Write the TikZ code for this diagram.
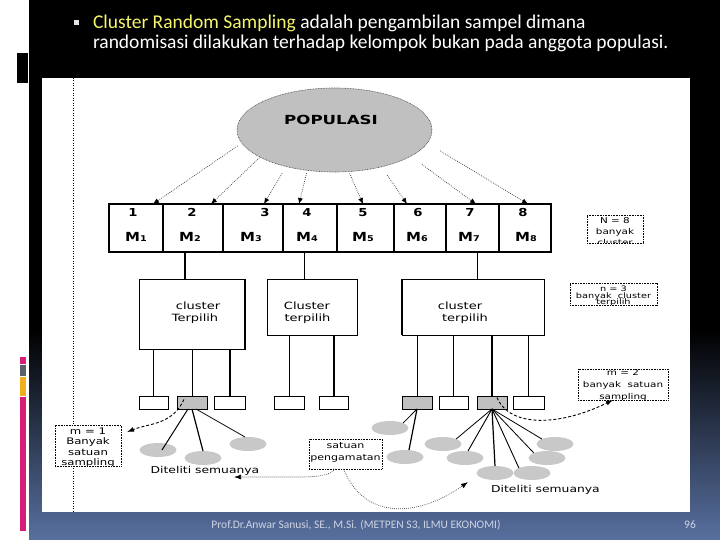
\documentclass[tikz,border=0pt]{standalone}
\usepackage{fontspec}
\usepackage{graphicx}
\setmainfont{DejaVu Sans}
\newfontfamily\ttlfont{Carlito}
\usetikzlibrary{arrows.meta,shapes.geometric,calc}
\definecolor{panelblue}{RGB}{88,112,160}
\definecolor{ttlyellow}{RGB}{245,245,110}
\definecolor{boxgray}{RGB}{192,192,192}
\definecolor{elgray}{RGB}{200,200,200}
\definecolor{barpink}{RGB}{214,30,120}
\definecolor{bargray}{RGB}{90,96,106}
\definecolor{baryellow}{RGB}{240,176,30}
\definecolor{footgray}{RGB}{205,212,228}
\newcommand{\sx}[1]{\scalebox{1.3}[1]{#1}}
\newcommand{\sxb}[1]{\scalebox{1.2}[1]{#1}}
\newcommand{\Msub}[1]{\sxb{M{\fontsize{8}{9}\selectfont #1}}}
\begin{document}
\begin{tikzpicture}[x=1pt,y=-1pt,
 every node/.style={inner sep=0pt, outer sep=0pt},
 cell/.style={draw, line width=1.3pt, minimum height=48pt, anchor=north west},
 kbox/.style={draw, line width=1pt, anchor=north west, fill=white},
 sbox/.style={draw, line width=1pt, anchor=north west, minimum height=13pt, fill=white},
 gbox/.style={sbox, fill=boxgray},
 sel/.style={ellipse, fill=elgray, minimum width=37pt, minimum height=14pt},
 ann/.style={draw=black, dash pattern=on 0.8pt off 0.8pt, line width=0.8pt, fill=white, anchor=north west},
 anntxt/.style={anchor=base, font=\fontsize{8}{9}\selectfont},
 numtxt/.style={anchor=base, font=\bfseries\fontsize{11}{12}\selectfont},
 mtxt/.style={anchor=base, font=\bfseries\fontsize{12.5}{13}\selectfont},
 ktxt/.style={anchor=base, font=\fontsize{10}{12}\selectfont},
 poparrow/.style={draw=black!75, dash pattern=on 0.8pt off 1.2pt, line width=0.7pt, -{Latex[length=6pt,width=5pt,black]}},
 dasharrow/.style={draw=black, dash pattern=on 3pt off 2pt, line width=0.9pt, -{Latex[length=7pt,width=5pt]}},
 dotarrow/.style={draw=black!70, dash pattern=on 0.8pt off 1.2pt, line width=0.7pt, -{Latex[length=7pt,width=5pt,black]}},
]
\useasboundingbox (0,0) rectangle (720,540);
% background
\fill[white] (0,0) rectangle (720,540);
\fill[black] (29,0) rectangle (720,331);
\shade[top color=black, middle color=black!65!panelblue, bottom color=panelblue] (29,330) rectangle (720,540);
\fill[black] (17,53) rectangle (28,83);
\fill[barpink] (20,357) rectangle (26,364);
\fill[bargray] (20,365) rectangle (26,376);
\fill[baryellow] (20,377) rectangle (26,396);
\fill[barpink] (20,397) rectangle (26,531);
\fill[white] (42,78) rectangle (690,512);
\draw[black, dash pattern=on 1pt off 1.5pt, line width=0.7pt] (73,78) -- (73,512);

% title
\node[fill=white!80!gray, minimum size=5pt] (bul) at (76,23) {};
\node[anchor=base west, font=\ttlfont\fontsize{19.5}{21}\selectfont, text=white] (ttl1) at (93,29)
  {\textcolor{ttlyellow}{Cluster Random Sampling} adalah pengambilan sampel dimana};
\node[anchor=base west, font=\ttlfont\fontsize{19.5}{21}\selectfont, text=white] (ttl2) at (93,49)
  {randomisasi dilakukan terhadap kelompok bukan pada anggota populasi.};

% footer
\node[anchor=base, font=\ttlfont\fontsize{11.5}{13}\selectfont, text=footgray] (foot) at (356,528)
  {Prof.Dr.Anwar Sanusi, SE., M.Si. (METPEN S3, ILMU EKONOMI)};
\node[anchor=base, font=\ttlfont\fontsize{11.5}{13}\selectfont, text=footgray] (pg) at (690,528) {96};

% population
\node[ellipse, draw=black!70, dash pattern=on 0.8pt off 0.8pt, line width=0.6pt, fill=boxgray,
  minimum width=195pt, minimum height=84pt] (pop) at (334.5,130) {};
\node[anchor=base, font=\bfseries\fontsize{12.5}{14}\selectfont] (poptxt) at (331,125) {\scalebox{1.33}[1]{POPULASI}};

% table
\node[cell, minimum width=54pt] (c1) at (109,204) {};
\node[cell, minimum width=60pt] (c2) at (163,204) {};
\node[cell, minimum width=60pt] (c3) at (223,204) {};
\node[cell, minimum width=54pt] (c4) at (283,204) {};
\node[cell, minimum width=57pt] (c5) at (337,204) {};
\node[cell, minimum width=52pt] (c6) at (394,204) {};
\node[cell, minimum width=53pt] (c7) at (446,204) {};
\node[cell, minimum width=52pt] (c8) at (499,204) {};
\foreach \i/\x in {1/133,2/192,3/265,4/307,5/363,6/418,7/470,8/523}
  \node[numtxt] (num\i) at (\x,217) {\sxb{\i}};
\foreach \i/\x in {1/136,2/190,3/251,4/307,5/363,6/417,7/469,8/526}
  \node[mtxt] (mm\i) at (\x,241) {\Msub{\i}};

\foreach \ang/\c/\dx/\sh in {188.8/c1/17/5, 200.6/c2/18/1, 217.6/c3/11/8, 236.5/c4/-11/3,
   289.8/c5/-2.5/2, 322.2/c6/-13/10, 341.8/c7/3.5/14, 352/c8/3/15}
  \draw[poparrow, shorten <=\sh pt] (pop.\ang) -- ([xshift=\dx pt]\c.north);

% cluster boxes
\node[kbox, minimum width=106pt, minimum height=70pt] (k1) at (139,279) {};
\node[kbox, minimum width=90pt, minimum height=56pt] (k2) at (267,279) {};
\node[kbox, minimum width=142pt, minimum height=56pt] (k3) at (402,279) {};
\draw[line width=2pt] (k1.north east) -- (k1.south east);
\draw[line width=2pt] (k3.north west) -- (k3.south west);
\node[ktxt] (k1a) at (198,309) {\sx{cluster}};
\node[ktxt] (k1b) at (195,321) {\sx{Terpilih}};
\node[ktxt] (k2a) at (307,309) {\sx{Cluster}};
\node[ktxt] (k2b) at (307.5,321) {\sx{terpilih}};
\node[ktxt] (k3a) at (460,309) {\sx{cluster}};
\node[ktxt] (k3b) at (465,321) {\sx{terpilih}};

\draw[line width=2pt] ([xshift=-8pt]c2.south) -- ([xshift=-8pt]c2.south |- k1.north);
\draw[line width=1pt] ([xshift=-6pt]c4.south) -- ([xshift=-6pt]c4.south |- k2.north);
\draw[line width=0.8pt] ([xshift=4.5pt]c7.south) -- ([xshift=4.5pt]c7.south |- k3.north);

% sampling units
\node[sbox, minimum width=29pt] (s11) at (139,396) {};
\node[gbox, minimum width=30pt] (s12) at (177,396) {};
\node[sbox, minimum width=31pt] (s13) at (214,396) {};
\node[sbox, minimum width=30pt] (s21) at (274,396) {};
\node[sbox, minimum width=29pt] (s22) at (319,396) {};
\node[gbox, minimum width=30pt] (s31) at (402,396) {};
\node[sbox, minimum width=29pt] (s32) at (439,396) {};
\node[gbox, minimum width=30pt] (s33) at (477,396) {};
\node[sbox, minimum width=31pt] (s34) at (513,396) {};
\foreach \s/\k/\w in {s11/k1/1, s12/k1/1, s13/k1/2, s21/k2/1, s22/k2/2, s31/k3/1, s32/k3/1, s33/k3/2, s34/k3/1}
  \draw[line width=\w pt] (\s.north) -- (\s.north |- \k.south);

% observation units
\node[sel] (e11) at (158,450) {};
\node[sel] (e12) at (203,458) {};
\node[sel] (e13) at (248,444) {};
\node[sel] (e21) at (390,428) {};
\node[sel] (e22) at (405,457) {};
\node[sel] (e31) at (443,444) {};
\node[sel] (e32) at (465,458) {};
\node[sel] (e33) at (495,473) {};
\node[sel] (e34) at (532,473) {};
\node[sel] (e35) at (547,458) {};
\node[sel] (e36) at (555,444) {};

\draw[line width=1pt] ([xshift=-4pt]s12.south) -- ([xshift=4pt]e11.center);
\draw[line width=1.2pt] (s12.south) -- (e12.north);
\draw[line width=0.8pt] ([xshift=4pt]s12.south) -- ([xshift=-3pt]e13.north);
\draw[line width=0.8pt] (s31.south) -- (e21.north east);
\draw[line width=1.2pt] (s31.south) -- ([xshift=4pt]e22.north);
\draw[line width=0.8pt] (s33.south) -- (e31.north east);
\draw[line width=0.9pt] (s33.south) -- ([xshift=3pt]e32.north);
\draw[line width=1.2pt] (s33.south) -- (e33.north);
\draw[line width=0.9pt] (s33.south) -- (e34.north west);
\draw[line width=0.8pt] (s33.south) -- (e35.north west);
\draw[line width=0.8pt] (s33.south) -- (e36.north west);

\node[anchor=base, font=\fontsize{9.5}{11}\selectfont] (dit1) at (205,473) {\sx{Diteliti semuanya}};
\node[anchor=base, font=\fontsize{9.5}{11}\selectfont] (dit2) at (545.5,492) {\sx{Diteliti semuanya}};

% annotation boxes
\node[ann, minimum width=56pt, minimum height=28pt] (annN) at (587,215) {};
\begin{scope}
\clip (587.5,215.5) rectangle (642.5,242.6);
\node[anntxt] (annN1) at (615,224) {\sx{N = 8}};
\node[anntxt] (annN2) at (615,234.5) {\sx{banyak}};
\node[anntxt] (annN3) at (615,245) {\sx{cluster}};
\end{scope}

\node[ann, minimum width=87pt, minimum height=22pt] (annn) at (570,283) {};
\begin{scope}
\clip (570.5,283.5) rectangle (656.5,304.6);
\node[anntxt, font=\fontsize{7.5}{9}\selectfont] (annn1) at (613.5,291) {\sx{n = 3}};
\node[anntxt, font=\fontsize{7.5}{9}\selectfont] (annn2) at (613.5,298.5) {\sx{banyak~ cluster}};
\node[anntxt, font=\fontsize{7.5}{9}\selectfont] (annn3) at (613.5,304.5) {\sx{terpilih}};
\end{scope}

\node[ann, minimum width=90pt, minimum height=31pt] (annm2) at (578,369) {};
\begin{scope}
\clip (578.5,369.5) rectangle (667.5,399.6);
\node[anntxt] (annm21) at (623,375.5) {\sx{m = 2}};
\node[anntxt] (annm22) at (623,387) {\sx{banyak~ satuan}};
\node[anntxt] (annm23) at (623,399) {\sx{sampling}};
\end{scope}

\node[ann, minimum width=66pt, minimum height=41pt] (annm1) at (55,425) {};
\begin{scope}
\clip (55.5,425.5) rectangle (120.5,465.6);
\node[anntxt, font=\fontsize{9}{10}\selectfont] (annm11) at (88,434) {\sx{m = 1}};
\node[anntxt, font=\fontsize{9}{10}\selectfont] (annm12) at (88,444.5) {\sx{Banyak}};
\node[anntxt, font=\fontsize{9}{10}\selectfont] (annm13) at (88,455) {\sx{satuan}};
\node[anntxt, font=\fontsize{9}{10}\selectfont] (annm14) at (88,465.5) {\sx{sampling}};
\end{scope}

\node[ann, minimum width=73pt, minimum height=30pt] (sp) at (309,439) {};
\node[anntxt, font=\fontsize{8.5}{10}\selectfont] (sp1) at (345.5,448) {\sx{satuan}};
\node[anntxt, font=\fontsize{8.5}{10}\selectfont] (sp2) at (345.5,460) {\sx{pengamatan}};

% arrows
\draw[dasharrow] ([xshift=-8pt,yshift=3pt]s12.center) .. controls (172,425) and (150,423) .. ([xshift=6pt,yshift=-7pt]annm1.north east);
\draw[dasharrow] ([xshift=5pt,yshift=5pt]s33.center) .. controls (510,428) and (560,426) .. ([xshift=-10pt]annm2.south);
\coordinate (lefttip) at (234,477);
\coordinate (righttip) at (468,482);
\draw[dotarrow] ([xshift=-10pt]sp.south) .. controls (328,478) and (305,477) .. (285,477) -- (lefttip);
\draw[dotarrow] ([xshift=-2pt]sp.south) .. controls (365,522) and (420,516) .. (righttip);
\end{tikzpicture}
\end{document}
